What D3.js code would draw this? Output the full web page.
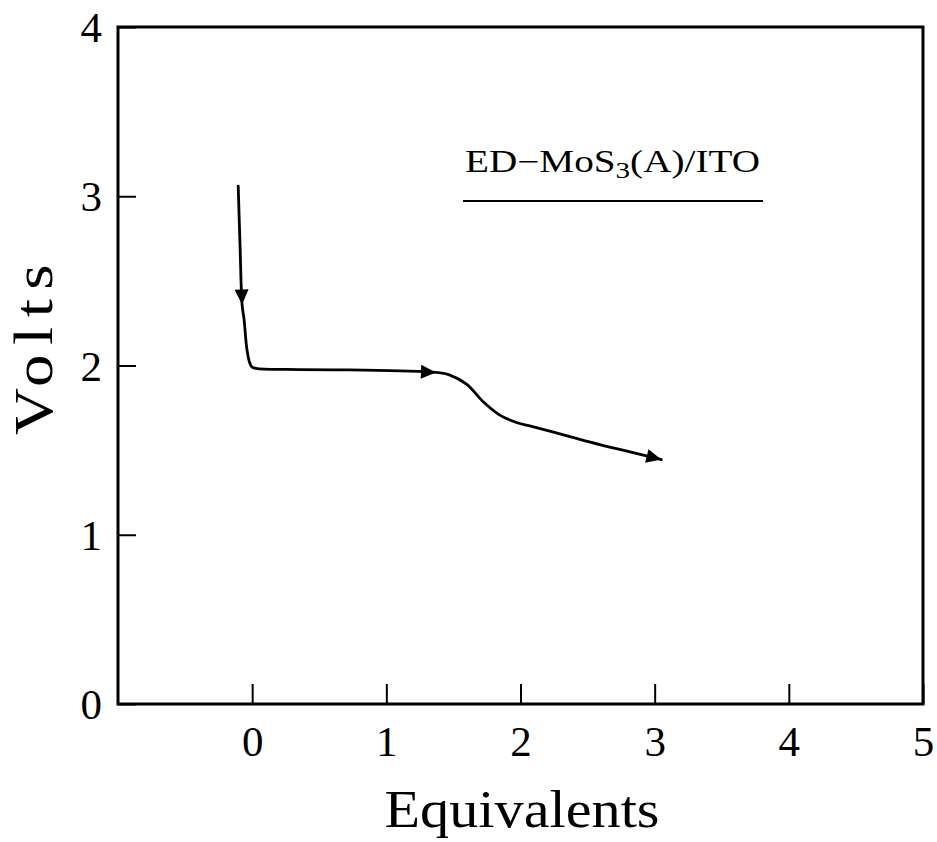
<!DOCTYPE html>
<html>
<head>
<meta charset="utf-8">
<script src="https://cdn.jsdelivr.net/npm/d3@7"></script>
<style>
  html, body { margin: 0; padding: 0; background: #fff; }
  svg { display: block; }
  text { fill: #000; }
</style>
</head>
<body>
<svg id="chart" width="937" height="842"></svg>
<script>
// Discharge curve: equivalents of Li inserted vs. cell voltage
const equivalents = [-0.104, -0.09, -0.075, -0.06, -0.04, -0.02, 0.0, 0.04, 0.35, 0.72, 1.10, 1.37,
                     1.47, 1.60, 1.72, 1.84, 1.97, 2.09, 2.34, 2.59, 2.84, 3.05];
const volts       = [3.06, 2.70, 2.36, 2.27, 2.10, 2.02, 1.99, 1.982, 1.976, 1.974, 1.968, 1.959,
                     1.945, 1.888, 1.787, 1.71, 1.663, 1.639, 1.586, 1.533, 1.485, 1.444];
// indices of curve points carrying a direction arrowhead
const arrowIndices = [2, 11, 21];

const xTicks = [0, 1, 2, 3, 4, 5];
const yTicks = [0, 1, 2, 3, 4];
const xLabel = "Equivalents";
const yLabel = "Volts";

const serif = "'Liberation Serif', 'DejaVu Serif', serif";

const svg = d3.select("#chart");
const m = { left: 118, right: 923, top: 27, bottom: 704 };

const x = d3.scaleLinear().domain([-1, 5]).range([m.left, m.right]);
const y = d3.scaleLinear().domain([0, 4]).range([m.bottom, m.top]);

// plot frame
svg.append("rect")
  .attr("x", m.left).attr("y", m.top)
  .attr("width", m.right - m.left).attr("height", m.bottom - m.top)
  .attr("fill", "none").attr("stroke", "#000").attr("stroke-width", 3);

// bottom axis with inward ticks
const gx = svg.append("g")
  .attr("transform", `translate(0,${m.bottom})`)
  .call(d3.axisBottom(x).tickValues(xTicks).tickSize(-20).tickPadding(20).tickFormat(d3.format("d")));
gx.select(".domain").remove();
gx.selectAll(".tick line").attr("stroke", "#000").attr("stroke-width", 2);
gx.selectAll(".tick text")
  .style("font-family", serif).style("font-size", "43px")
  .attr("dy", "0.78em").attr("y", 18);

// left axis with inward ticks
const gy = svg.append("g")
  .attr("transform", `translate(${m.left},0)`)
  .call(d3.axisLeft(y).tickValues(yTicks).tickSize(-18).tickPadding(16).tickFormat(d3.format("d")));
gy.select(".domain").remove();
gy.selectAll(".tick line").attr("stroke", "#000").attr("stroke-width", 2);
gy.selectAll(".tick text")
  .style("font-family", serif).style("font-size", "43px")
  .attr("dy", "0.34em");

// axis titles
svg.append("text")
  .attr("x", 522).attr("y", 827)
  .attr("text-anchor", "middle")
  .style("font-family", serif).style("font-size", "53px")
  .attr("textLength", 275).attr("lengthAdjust", "spacingAndGlyphs")
  .text(xLabel);

svg.append("text")
  .attr("transform", "translate(52,345) rotate(-90)")
  .attr("text-anchor", "middle")
  .style("font-family", serif).style("font-size", "55px").style("letter-spacing", "8px")
  .attr("textLength", 180).attr("lengthAdjust", "spacingAndGlyphs")
  .text(yLabel);

// sample label with underline
const lbl = svg.append("text")
  .attr("x", 465).attr("y", 172)
  .style("font-family", serif).style("font-size", "31px")
  .attr("textLength", 295).attr("lengthAdjust", "spacingAndGlyphs");
lbl.append("tspan").text("ED\u2212MoS");
lbl.append("tspan").style("font-size", "23px").attr("dy", 6).text("3");
lbl.append("tspan").attr("dy", -6).text("(A)/ITO");

svg.append("line")
  .attr("x1", 463).attr("x2", 763).attr("y1", 201).attr("y2", 201)
  .attr("stroke", "#000").attr("stroke-width", 2);

// discharge curve
const pts = equivalents.map((e, i) => [e, volts[i]]);
const line = d3.line()
  .x(d => x(d[0])).y(d => y(d[1]))
  .curve(d3.curveCatmullRom.alpha(0.5));

svg.append("path")
  .datum(pts)
  .attr("d", line)
  .attr("fill", "none").attr("stroke", "#000").attr("stroke-width", 2.8)
  .attr("stroke-linejoin", "round").attr("stroke-linecap", "round");

// arrowheads pointing along the direction of travel
svg.selectAll("path.arrow")
  .data(arrowIndices)
  .join("path")
  .attr("class", "arrow")
  .attr("d", "M0,0L-15,-7L-15,7Z")
  .attr("fill", "#000")
  .attr("transform", i => {
    const p0 = pts[i - 1], p1 = pts[i];
    const a = Math.atan2(y(p1[1]) - y(p0[1]), x(p1[0]) - x(p0[0])) * 180 / Math.PI;
    return `translate(${x(p1[0])},${y(p1[1])}) rotate(${a})`;
  });
</script>
</body>
</html>
